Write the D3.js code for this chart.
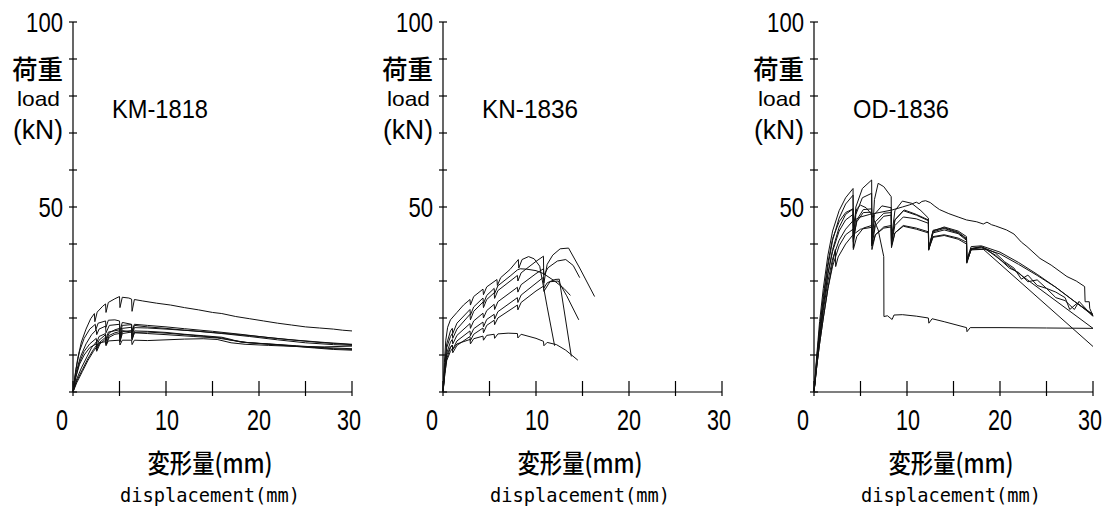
<!DOCTYPE html>
<html>
<head>
<meta charset="utf-8">
<script src="https://cdn.jsdelivr.net/npm/d3@7"></script>
<style>
  body { margin: 0; background: #fff; }
  svg { display: block; }
  text { fill: #000; }
  .jp { font-family: "Noto Sans CJK JP", sans-serif; font-weight: 500; }
  .lat { font-family: "Liberation Sans", "DejaVu Sans", sans-serif; }
  .mono { font-family: "DejaVu Sans Mono", "Liberation Mono", monospace; }
  .curve { fill: none; stroke: #111; stroke-width: 1; stroke-linejoin: round; }
  .axis-line { stroke: #000; stroke-width: 1.2; }
</style>
</head>
<body>
<svg id="chart" width="1111" height="510"></svg>
<script>
// --- Data: load (kN) vs displacement (mm) ---
const panelNames = ["KM-1818", "KN-1836", "OD-1836"];
const xTicks = [0, 5, 10, 15, 20, 25, 30];
const xTickLabels = [0, 10, 20, 30];
const yTicks = [0, 10, 20, 30, 40, 50, 60, 70, 80, 90, 100];
const yTickLabels = [50, 100];

const kmCurves = [
  [[0,0],[0.2,4],[0.5,9],[0.9,13.5],[1.4,17],[1.9,19.8],[2.3,21.2],[2.35,19],[2.6,21.6],[3.2,23.2],[3.5,23.8],[3.55,21.5],[3.8,24.2],[4.5,25.2],[5.0,25.8],[5.05,22.8],[5.3,25.6],[6.0,25.4],[6.3,25.1],[6.35,21.8],[6.6,25],[7.5,24.6],[9,24],[10.5,23.5],[12,22.8],[13.5,22.2],[15,21.5],[16,21.2],[17.5,20.4],[19,19.8],[20.5,19.2],[22,18.6],[23.5,18.1],[25,17.6],[26.5,17.3],[28,17.0],[29,16.7],[30,16.5]],
  [[0,0],[0.3,6],[0.7,11],[1.2,14.5],[1.8,17],[2.4,18.3],[2.45,16.8],[2.7,18.6],[3.5,19.2],[3.55,17.5],[3.8,19.4],[4.5,19.5],[5.0,19.2],[5.05,16.5],[5.3,18.8],[6.3,18.3],[6.35,16],[6.6,18],[8,17.6],[10,17.2],[12,16.7],[15,16.1],[17,15.7],[20,15.0],[23,14.2],[26,13.5],[28,13.1],[30,12.8]],
  [[0,0],[0.3,5],[0.8,9.5],[1.4,13],[2,15.5],[2.5,16.8],[2.55,15.5],[2.8,17],[3.5,17.8],[3.55,16],[3.9,18],[5,18.3],[5.05,15.5],[5.3,18],[6.3,18.2],[6.35,16.5],[6.6,18.3],[8,18],[10,17.6],[12,17.1],[15,16.4],[18,15.6],[21,14.7],[24,14],[27,13.4],[30,12.9]],
  [[0,0],[0.4,3.5],[0.9,6.5],[1.5,9.5],[2,12],[2.5,13.5],[2.55,12.3],[2.8,14],[3.5,15.5],[3.55,13.8],[3.9,16],[4.5,16.8],[5,17.2],[5.05,14.8],[5.3,17.2],[6.3,17.5],[6.35,15.2],[6.6,17.4],[8,17.3],[10,17],[13,16.5],[16,15.8],[19,15],[22,14.1],[25,13.3],[28,12.8],[30,12.6]],
  [[0,0],[0.4,3],[1,6],[1.6,9],[2.2,11.5],[2.5,12.5],[2.55,11.5],[2.9,13.5],[3.5,14.8],[3.55,13],[3.9,15.3],[4.5,16],[5,16.3],[5.05,13.8],[5.3,16.3],[6.3,16.6],[6.35,14.5],[6.6,16.5],[8,16.4],[10,16.1],[12,15.6],[14,15.2],[16,14.8],[17,14.2],[18,13.5],[20,13.1],[23,12.5],[26,11.9],[28,11.5],[30,11.3]],
  [[0,0],[0.3,4],[0.7,8],[1.2,11],[1.8,13],[2.5,14.5],[2.55,13.3],[2.8,15],[3.5,15.8],[3.55,14.2],[3.8,16.2],[5,16.8],[5.05,14.5],[5.3,16.6],[6.3,16.2],[6.35,14.3],[6.6,16],[8,15.8],[10,15.5],[13,15],[15.5,14.6],[17,14],[18.5,13.4],[21,13],[24,12.5],[27,12],[30,11.7]],
  [[0,0],[0.3,4],[0.7,7.5],[1.2,10],[1.8,12],[2.5,13],[2.55,12],[2.8,13.3],[3.5,13.6],[3.55,12.5],[3.8,13.8],[5,14],[5.05,12.7],[5.3,14],[6.3,14],[6.35,12.8],[6.6,14],[8,13.9],[10,14.1],[12,14.3],[14,14.4],[15.5,14.2],[17,13.3],[18.5,12.9],[21,12.6],[24,12.3],[27,12.2],[30,12.4]],
  [[0,0],[0.4,2.5],[1,5.5],[1.6,8.5],[2.2,11],[2.5,12],[2.55,11],[2.9,13],[3.5,14.3],[3.55,12.8],[3.9,14.8],[4.5,15.6],[5,15.8],[5.05,13.5],[5.3,15.8],[6.3,16.2],[6.35,14],[6.6,16.1],[8,16.2],[10,15.9],[13,15.3],[16,14.6],[17,14],[19,13.3],[22,12.8],[25,12.2],[28,11.7],[30,11.5]]
];

const knCurves = [
  [[0,0],[0.15,8],[0.3,14],[0.5,17.5],[0.8,19.5],[1.5,21.5],[2.2,23.5],[2.9,25],[2.95,23.5],[3.3,25.8],[4.3,27.8],[4.35,26.3],[4.7,28.4],[5.8,30.4],[5.85,28.8],[6.2,30.9],[7.2,33.1],[8.1,35.8],[8.15,33.5],[8.5,35.8],[9.2,36.6],[9.8,36],[10.4,34],[11.2,23],[12,12.5]],
  [[0,0],[0.2,7],[0.4,12],[0.8,15],[1.0,15.8],[1.05,14.5],[1.5,17],[2.9,21],[2.95,19.5],[3.3,21.8],[4.3,24.3],[4.35,22.8],[4.7,25],[5.5,26.8],[5.55,25.3],[5.9,27.4],[8,31.5],[8.05,30],[8.4,32.2],[10,35.3],[10.8,36.7],[10.85,28.1],[11.2,29.5],[12,30.4],[12.5,30.5],[13.8,9.6]],
  [[0,0],[0.2,5],[0.4,9],[0.8,12],[1.0,12.7],[1.05,11.5],[1.5,13.8],[2.9,16.5],[2.95,15.2],[3.3,17.1],[4.3,18.9],[4.35,17.6],[4.7,19.6],[5.5,21],[5.55,19.7],[5.9,21.7],[8,25.5],[8.05,24.2],[8.4,26.2],[10,29.4],[10.8,31],[10.85,29.5],[11.2,34.5],[11.8,37],[12.6,38.7],[13.5,38.9],[14.7,33.5],[16.3,25.8]],
  [[0,0],[0.2,6],[0.4,10.5],[0.8,13.5],[1.0,14.2],[1.05,13],[1.5,15.3],[2.9,18.5],[2.95,17.2],[3.3,19.2],[4.3,21.3],[4.35,20],[4.7,22],[5.5,23.7],[5.55,22.3],[5.9,24.4],[8,28.3],[8.05,27],[8.4,29],[10,32],[10.8,33.3],[10.85,31.6],[11.3,33.6],[12.3,35.4],[13.2,35.8],[14,34.2],[14.7,30.9]],
  [[0,0],[0.2,8],[0.4,13],[0.8,16.5],[1.0,17.2],[1.05,15.8],[1.5,18.6],[2.9,22.3],[2.95,20.8],[3.3,23],[4.3,25.4],[4.35,23.9],[4.7,26.1],[5.5,28],[5.55,26.6],[5.9,28.7],[7.3,31.5],[8,33],[8.3,33.3],[9,33.2],[10,32.8],[10.8,32],[12,30],[13,28],[13.7,26.1]],
  [[0,0],[0.2,5],[0.4,8.5],[0.8,11],[1.0,11.7],[1.05,10.6],[1.5,12.6],[2.9,15],[2.95,13.9],[3.3,15.6],[4.3,17.3],[4.35,16],[4.7,18],[5.5,19.4],[5.55,18.2],[5.9,20],[8,23.5],[8.05,22.2],[8.4,24.2],[10,27.3],[10.8,28.6],[10.85,27.2],[11.5,29.8],[12.4,30],[13.3,26],[14.6,19.5]],
  [[0,0],[0.2,6],[0.4,10],[0.8,12.2],[1.0,12.6],[1.05,11.5],[1.5,13],[2.9,14.2],[2.95,13],[3.3,14.4],[4.3,15.1],[4.35,14],[4.7,15.3],[5.5,15.6],[5.55,14.5],[5.9,15.7],[7,15.9],[8,15.8],[8.05,14.6],[8.4,15.6],[10,14.5],[10.8,13.7],[10.85,12.5],[11.2,13.4],[12.2,12.8],[13.2,11.3],[14.5,8.6]]
];

const odCurves = [
  [[0,0],[0.3,10],[0.6,19],[1,28],[1.5,37],[2,43.5],[2.7,49],[3.4,52.5],[4.2,55],[4.23,40.5],[4.5,50],[5.2,55],[6.2,57.3],[6.23,40],[6.5,52],[6.9,56.4],[7.5,55.5],[8.3,52.8],[8.33,41.5],[8.7,49],[9.5,51.6],[10.5,51],[11.5,49],[12.3,47],[12.33,38.8],[12.8,43.5],[14,44.6],[15.5,43.5],[16.4,42],[16.43,35.8],[16.9,39.3],[18,39.5],[20,37.8],[22,35],[24,31.8],[26,28.3],[28,24.5],[30,21]],
  [[0,0],[0.3,9],[0.6,17],[1,25],[1.5,34],[2,41],[2.7,47],[3.4,50.8],[4.2,53.2],[4.23,39],[4.5,48],[5.2,52.5],[6.2,53.7],[6.23,40],[6.5,48],[7.3,50.3],[8.3,49.8],[8.33,40],[8.7,46.5],[9.7,49.2],[11,48],[12.3,46.5],[12.33,38.5],[12.8,43.7],[14,44.4],[15.5,43.2],[16.4,41.5],[16.43,35.3],[16.9,38.8],[18,39.3],[19.5,37.6],[20.5,35.2],[21.5,33.5],[22.3,30.5],[23,31.6],[24,28.8],[25,28],[26,25.5],[27,24.7],[28,22.3],[28.5,24.5],[30,20.4]],
  [[0,0],[0.3,8],[0.6,15],[1,23],[1.5,32],[2,38.5],[2.7,44.5],[3.4,48],[4.2,49.5],[4.23,45],[4.6,49.5],[5,50.5],[5.6,49.8],[6.2,48],[6.9,43.8],[7.5,36.6],[7.52,20.4],[7.9,20.6],[8.4,19.6],[8.6,20.8],[9.5,20.9],[11,20.5],[12.3,20.0],[12.35,18.6],[12.7,19.8],[14,19],[16.4,17.4],[16.45,16.3],[16.8,17.4],[20,17.4],[25,17.3],[30,17.2]],
  [[0,0],[0.3,7],[0.6,14],[1,22],[1.5,30],[2,36],[2.7,41],[3.4,44],[4.2,46.3],[5,47.3],[6,48],[7,48.5],[8.4,49.2],[9.5,50],[10.3,50.6],[11,51.3],[11.3,50.9],[11.6,51.5],[12,51.7],[12.5,51.2],[13,50.2],[13.5,49.3],[14.5,48.2],[15.5,47.3],[16.4,46.5],[17.5,46],[18.2,45.4],[18.6,45.9],[19.1,45.2],[19.5,44.9],[20.7,43.8],[21.5,42.7],[22.3,40.5],[22.9,39.3],[24.3,36.1],[25.5,34.3],[27.2,31.2],[28.2,30],[29.1,28.5],[29.15,24.4],[29.6,24.4],[29.65,22.6],[30,20.6]],
  [[0,0],[0.3,8],[0.6,15],[1,23.5],[1.5,32],[2,38],[2.7,43.5],[3.4,46.5],[4.2,48],[4.23,41.5],[4.6,46],[5.3,48.5],[6.2,48.6],[6.23,39.5],[6.6,45],[7.5,47.5],[8.3,47.8],[8.33,40.2],[8.7,45],[9.6,47.3],[11,46.8],[12.3,45.6],[12.33,38.3],[12.8,43],[14,43.8],[15.5,42.8],[16.4,41],[16.43,34.8],[16.9,38.6],[18,39],[20,37.3],[22,34.5],[24,31.5],[26,28.3],[28,24.5],[30,20.8]],
  [[0,0],[0.3,7],[0.6,13],[1,20],[1.5,28],[2,34],[2.7,39.5],[3.4,42.5],[4.2,44],[4.23,38.5],[4.6,42],[5.3,44.3],[6.2,45],[6.23,38.5],[6.6,42.5],[7.5,44.6],[8.3,45],[8.33,39],[8.7,43],[9.6,45],[11,44.3],[12.3,43.3],[12.33,38.8],[12.8,42],[14,42.5],[15.5,41.6],[16.4,40.5],[16.43,35.5],[16.9,38.6],[18.2,38.6],[30,12.3]],
  [[0,0],[0.3,7],[0.6,13],[1,20],[1.5,28],[2,35],[2.3,38.5],[2.33,33.9],[2.6,36.5],[3.4,40],[4.2,42.5],[5,44],[6.2,44.5],[6.23,39.5],[6.6,42.5],[7.5,44.3],[8.3,44.6],[8.33,39.5],[8.7,43],[9.6,44.8],[11,44],[12.3,43],[12.33,38.5],[12.8,41.8],[14,42.3],[15.5,41.3],[16.4,40],[16.43,35.3],[16.9,38.4],[18.5,38.6],[30,17.2]],
  [[0,0],[0.3,9],[0.6,17],[1,26],[1.5,35],[2,41.5],[2.7,46],[3.4,48.5],[4.2,49.5],[4.23,41],[4.6,46.5],[5.3,49.3],[6.2,49.5],[6.23,40.5],[6.6,46],[7.5,48.3],[8.3,48.5],[8.33,41],[8.7,46.5],[9.6,49],[11,47.8],[12.3,46.3],[12.33,38.7],[12.8,43.3],[14,44.2],[15.5,43],[16.4,41.3],[16.43,35],[16.9,38.7],[18,39.2],[19.5,37],[21,33.5],[22,32.3],[23,29.8],[24,30.3],[25,28],[26,27],[27,25.5],[27.5,22.3],[28.3,24],[30,20.6]]
];

const panelCurves = [kmCurves, knCurves, odCurves];

// --- Layout ---
const svg = d3.select("#chart");
const panelLeft = [73, 443, 814];
const plotW = 279;
const yTop = 22, yBottom = 392;
// small horizontal nudges of the x tick labels, as in the original
const xLabelShift = { 0: -11, 10: 1, 20: 0, 30: -3 };

// text helper: the reference font is a narrow gothic, so squeeze via textLength
function addText(g, str, cls, x, y, size, anchor, width) {
    const t = g.append("text")
        .attr("class", cls)
        .attr("x", x).attr("y", y)
        .attr("font-size", size)
        .attr("text-anchor", anchor)
        .text(str);
    if (width) t.attr("textLength", width).attr("lengthAdjust", "spacingAndGlyphs");
    return t;
}

panelNames.forEach((name, i) => {
    const x0 = panelLeft[i];
    const g = svg.append("g");
    const x = d3.scaleLinear().domain([0, 30]).range([x0, x0 + plotW]);
    const y = d3.scaleLinear().domain([0, 100]).range([yBottom, yTop]);

    // axes drawn by hand to get the crossing ticks of the original
    g.append("line").attr("class", "axis-line")
        .attr("x1", x(0)).attr("x2", x(0)).attr("y1", y(0)).attr("y2", y(100));
    g.append("line").attr("class", "axis-line")
        .attr("x1", x(0)).attr("x2", x(30)).attr("y1", y(0)).attr("y2", y(0));
    g.selectAll(".ytick").data(yTicks).join("line")
        .attr("class", "axis-line")
        .attr("x1", x(0) - 4).attr("x2", x(0) + 4)
        .attr("y1", d => y(d)).attr("y2", d => y(d));
    g.selectAll(".xtick").data(xTicks).join("line")
        .attr("class", "axis-line")
        .attr("x1", d => x(d)).attr("x2", d => x(d))
        .attr("y1", y(0) - 11).attr("y2", y(0) + 4);

    // tick labels
    yTickLabels.forEach(v => {
        addText(g, String(v), "lat", x(0) - 10, y(v) + 10, 28, "end", String(v).length * 12.3);
    });
    xTickLabels.forEach(v => {
        addText(g, String(v), "lat", x(v) + xLabelShift[v], 430, 30, "middle", String(v).length * 12);
    });

    // y-axis title
    addText(g, "荷重", "jp", x(0) - 35.5, 79, 26, "middle", 51);
    addText(g, "load", "lat", x(0) - 34.5, 105.5, 21, "middle", 43);
    addText(g, "(kN)", "lat", x(0) - 35, 139, 28, "middle", 50);

    // specimen name
    addText(g, name, "lat", x(0) + 39, 118, 25.5, "start", 96);

    // x-axis title
    addText(g, "変形量(mm)", "jp", x(0) + 137, 473, 26, "middle", 125);
    addText(g, "displacement(mm)", "mono", x(0) + 137, 502, 20, "middle", 180);

    // curves
    const line = d3.line().x(d => x(d[0])).y(d => y(d[1]));
    g.selectAll(".curve").data(panelCurves[i]).join("path")
        .attr("class", "curve")
        .attr("d", line);
});
</script>
</body>
</html>
